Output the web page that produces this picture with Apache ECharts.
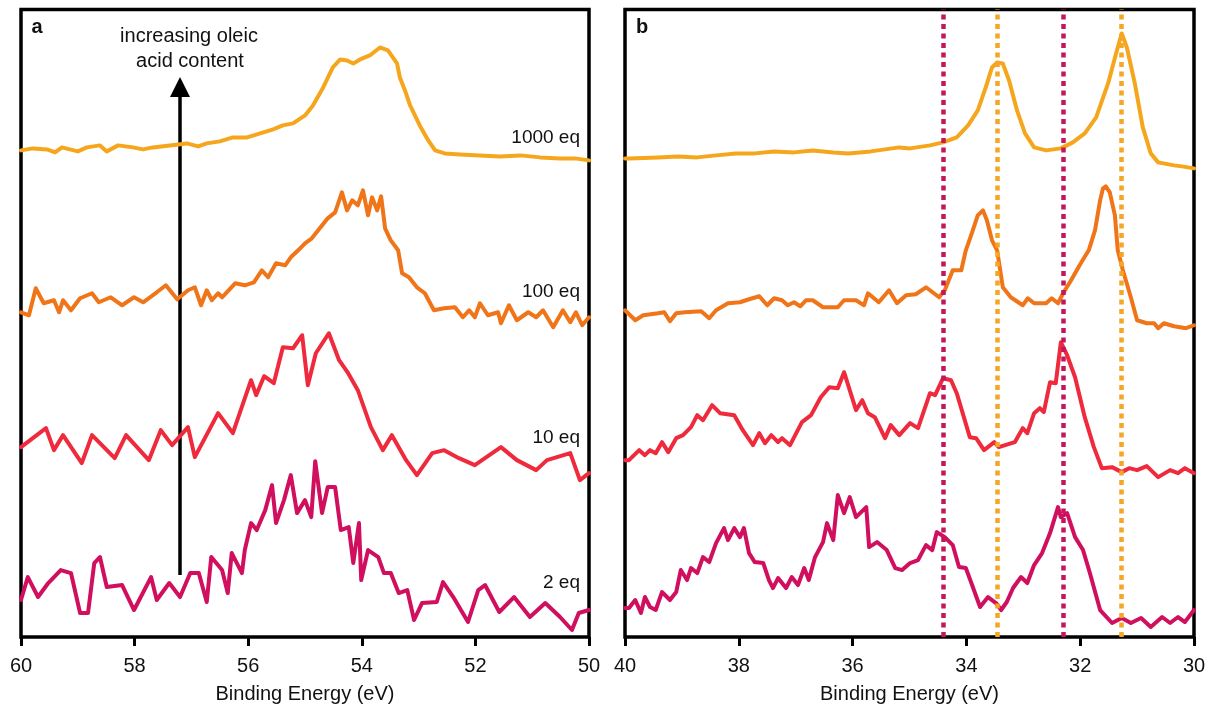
<!DOCTYPE html>
<html>
<head>
<meta charset="utf-8">
<title>XPS spectra</title>
<script src="https://cdn.jsdelivr.net/npm/echarts@6/dist/echarts.min.js"></script>
<style>
  html, body { margin: 0; padding: 0; background: #fff; }
  #main { width: 1208px; height: 706px; }
</style>
</head>
<body>
<div id="main"></div>
<script>
// panel a: [binding energy (eV), offset intensity]
const a1000 = [[60.00,487],[59.79,489],[59.54,488],[59.40,485],[59.28,490],[59.00,486],[58.84,490],[58.61,492],[58.49,486],[58.29,492],[58.03,490],[57.85,488],[57.68,490],[57.38,492],[57.08,494],[56.88,491],[56.73,494],[56.50,496],[56.27,500],[56.02,500],[55.79,504],[55.56,508],[55.39,512],[55.21,514],[55.00,522],[54.86,532],[54.68,550],[54.51,570],[54.38,578],[54.26,577],[54.15,574],[54.03,578],[53.86,582],[53.68,590],[53.54,587],[53.38,574],[53.33,560],[53.24,547],[53.15,532],[52.98,512],[52.83,497],[52.71,487],[52.54,484],[52.27,483],[51.92,482],[51.57,481],[51.21,482],[50.86,480],[50.51,479],[50.25,479],[50.00,477]];

const a100 = [[60.00,325],[59.86,322],[59.74,349],[59.60,334],[59.42,337],[59.33,325],[59.26,337],[59.12,327],[58.96,339],[58.75,344],[58.63,335],[58.42,340],[58.22,332],[58.01,340],[57.85,335],[57.61,345],[57.45,352],[57.25,338],[57.06,347],[56.94,350],[56.83,332],[56.73,347],[56.64,337],[56.53,344],[56.46,340],[56.23,354],[56.06,352],[55.90,355],[55.76,367],[55.65,360],[55.51,374],[55.35,372],[55.25,380],[55.12,387],[55.00,394],[54.88,399],[54.74,409],[54.60,419],[54.47,425],[54.35,445],[54.26,427],[54.17,437],[54.07,432],[53.98,447],[53.89,422],[53.82,440],[53.73,427],[53.66,441],[53.59,409],[53.49,397],[53.36,387],[53.29,364],[53.17,360],[53.03,350],[52.89,344],[52.73,327],[52.55,329],[52.36,330],[52.22,320],[52.11,327],[52.01,320],[51.92,334],[51.78,322],[51.60,325],[51.55,314],[51.41,332],[51.27,317],[51.07,325],[50.93,320],[50.81,327],[50.63,310],[50.46,327],[50.33,315],[50.23,325],[50.12,312],[50.00,320]];

const a10 = [[60.00,190],[59.56,209],[59.42,187],[59.26,202],[58.93,174],[58.75,202],[58.35,179],[58.15,202],[57.75,177],[57.54,207],[57.34,192],[57.06,210],[56.94,180],[56.53,224],[56.27,204],[55.95,257],[55.86,242],[55.72,261],[55.55,254],[55.39,290],[55.21,289],[55.05,302],[54.95,252],[54.81,284],[54.58,304],[54.40,277],[54.24,264],[54.07,247],[53.84,210],[53.63,187],[53.47,202],[53.22,177],[53.03,162],[52.76,184],[52.55,187],[52.29,179],[52.01,172],[51.55,190],[51.27,177],[50.93,167],[50.74,177],[50.33,184],[50.16,157],[50.00,164]];

const a2 = [[60.00,37],[59.88,60],[59.70,40],[59.52,54],[59.30,67],[59.12,64],[58.96,24],[58.82,24],[58.71,74],[58.61,80],[58.49,50],[58.22,52],[58.01,27],[57.71,60],[57.61,37],[57.39,54],[57.20,40],[57.02,64],[56.87,64],[56.73,35],[56.65,80],[56.46,67],[56.36,44],[56.29,84],[56.11,64],[56.06,87],[55.95,114],[55.85,107],[55.70,127],[55.58,152],[55.51,114],[55.37,137],[55.25,162],[55.14,124],[55.00,137],[54.89,120],[54.82,176],[54.70,124],[54.60,150],[54.47,150],[54.37,107],[54.23,110],[54.15,74],[54.05,114],[54.01,57],[53.89,87],[53.71,80],[53.61,64],[53.49,64],[53.35,44],[53.20,47],[53.08,17],[52.94,34],[52.68,35],[52.57,55],[52.39,40],[52.13,15],[51.95,47],[51.83,52],[51.58,25],[51.32,40],[51.04,20],[50.77,34],[50.51,20],[50.30,7],[50.18,24],[50.00,27]];

// panel b
const b1000 = [[40.00,479],[39.93,479],[39.42,480],[39.07,481],[38.73,480],[38.40,482],[38.05,484],[37.72,484],[37.38,486],[37.03,485],[36.70,487],[36.34,485],[36.08,484],[35.68,486],[35.18,490],[34.99,489],[34.64,492],[34.41,495],[34.17,500],[33.97,512],[33.80,527],[33.66,550],[33.55,570],[33.46,575],[33.36,574],[33.25,557],[33.11,527],[32.97,504],[32.81,490],[32.60,487],[32.34,489],[32.13,495],[31.92,504],[31.72,520],[31.51,554],[31.37,584],[31.27,604],[31.18,590],[31.04,554],[30.90,510],[30.76,484],[30.63,475],[30.35,472],[30.21,471],[30.00,469]];

const b100 = [[40.00,327],[39.82,317],[39.68,322],[39.42,324],[39.31,325],[39.21,316],[39.10,324],[38.95,325],[38.66,326],[38.52,319],[38.40,327],[38.19,334],[37.98,335],[37.82,338],[37.64,341],[37.50,332],[37.38,339],[37.24,337],[37.14,332],[37.03,335],[36.92,331],[36.82,337],[36.70,337],[36.52,330],[36.26,330],[36.15,337],[35.94,337],[35.80,332],[35.73,344],[35.54,335],[35.36,347],[35.22,334],[35.06,342],[34.89,343],[34.71,350],[34.48,340],[34.38,347],[34.24,367],[34.09,367],[34.01,387],[33.90,405],[33.80,422],[33.71,427],[33.64,417],[33.55,397],[33.46,387],[33.36,350],[33.22,340],[33.01,332],[32.92,339],[32.81,334],[32.60,334],[32.50,339],[32.39,334],[32.30,344],[32.16,357],[31.99,374],[31.85,387],[31.74,407],[31.65,437],[31.60,449],[31.55,451],[31.48,445],[31.39,422],[31.34,387],[31.25,367],[31.11,340],[31.00,317],[30.83,314],[30.70,314],[30.63,309],[30.53,314],[30.35,311],[30.14,309],[30.00,312]];

const b10 = [[40.00,177],[39.93,177],[39.75,187],[39.65,182],[39.56,187],[39.46,184],[39.35,195],[39.24,185],[39.10,199],[38.98,202],[38.84,210],[38.73,222],[38.63,217],[38.47,232],[38.33,224],[38.08,222],[37.93,207],[37.75,192],[37.64,204],[37.54,194],[37.43,202],[37.31,195],[37.24,199],[37.10,192],[36.89,215],[36.73,222],[36.56,240],[36.41,250],[36.26,249],[36.15,265],[35.94,227],[35.83,237],[35.73,224],[35.61,220],[35.43,199],[35.33,212],[35.18,202],[34.99,214],[34.85,209],[34.64,244],[34.55,242],[34.41,259],[34.27,257],[34.17,244],[33.94,200],[33.83,199],[33.69,187],[33.51,195],[33.43,190],[33.15,195],[33.01,209],[32.93,204],[32.81,224],[32.71,229],[32.64,225],[32.53,255],[32.43,254],[32.34,295],[32.23,282],[32.09,260],[31.92,220],[31.76,190],[31.62,169],[31.44,170],[31.27,165],[31.14,169],[31.00,167],[30.83,171],[30.63,160],[30.42,167],[30.28,164],[30.16,169],[30.00,164]];

const b2 = [[40.00,29],[39.93,29],[39.82,37],[39.72,24],[39.65,40],[39.56,30],[39.46,27],[39.35,45],[39.21,37],[39.10,45],[39.02,67],[38.91,57],[38.84,69],[38.73,64],[38.63,80],[38.52,75],[38.40,94],[38.26,109],[38.19,97],[38.08,109],[37.98,100],[37.91,109],[37.82,84],[37.72,75],[37.57,74],[37.47,57],[37.40,49],[37.31,59],[37.17,49],[37.07,60],[36.96,52],[36.85,69],[36.77,57],[36.66,80],[36.52,95],[36.45,114],[36.34,97],[36.26,142],[36.15,124],[36.05,140],[35.94,120],[35.76,130],[35.71,90],[35.57,95],[35.40,87],[35.25,69],[35.13,67],[34.99,74],[34.85,77],[34.71,92],[34.60,87],[34.52,105],[34.38,100],[34.24,92],[34.13,70],[34.01,69],[33.90,52],[33.76,30],[33.62,40],[33.48,34],[33.39,27],[33.29,35],[33.18,49],[33.04,60],[32.93,54],[32.81,72],[32.67,84],[32.53,104],[32.39,130],[32.34,120],[32.23,124],[32.09,100],[31.95,87],[31.83,64],[31.65,27],[31.44,14],[31.27,19],[31.11,14],[30.93,19],[30.76,10],[30.56,20],[30.42,14],[30.28,20],[30.16,15],[30.00,27]];

// reference peak positions (eV)
const guidesMagenta = [34.4, 32.3];
const guidesOrange = [33.45, 31.27];

const seriesLabels = ['1000 eq', '100 eq', '10 eq', '2 eq'];
const colors = ['#f5a61c', '#f07418', '#ee2a3c', '#d0105e'];

const FONT = "'Liberation Sans', Arial, sans-serif";

let chart = echarts.init(document.getElementById('main'), null, { renderer: 'canvas' });

function xAxisFor(gridIndex, min, max) {
  return {
    type: 'value',
    gridIndex: gridIndex,
    min: min,
    max: max,
    interval: 2,
    inverse: true,
    name: 'Binding Energy (eV)',
    nameLocation: 'middle',
    nameGap: 47,
    nameTextStyle: { fontFamily: FONT, fontSize: 20, color: '#111' },
    axisLine: { show: false },
    axisTick: { show: true, inside: false, length: 9, lineStyle: { color: '#000', width: 3 } },
    axisLabel: { fontFamily: FONT, fontSize: 20, color: '#111', margin: 19 },
    splitLine: { show: false }
  };
}

function yAxisFor(gridIndex) {
  return { type: 'value', gridIndex: gridIndex, min: 0, max: 628, show: false };
}

function lineSeries(data, color, idx) {
  return {
    type: 'line',
    xAxisIndex: idx,
    yAxisIndex: idx,
    data: data,
    showSymbol: false,
    lineStyle: { color: color, width: 4, join: 'round', cap: 'round' },
    z: 3
  };
}

let guideLines = [];
guidesMagenta.forEach((v) => guideLines.push({ xAxis: v, lineStyle: { color: '#c2185b' } }));
guidesOrange.forEach((v) => guideLines.push({ xAxis: v, lineStyle: { color: '#f5a623' } }));

let labelY = [138, 292, 438, 583];
let labelText = seriesLabels.map((t, i) => ({
  type: 'text',
  style: { text: t, x: 580, y: labelY[i], textAlign: 'right', textVerticalAlign: 'middle', font: '19px ' + FONT, fill: '#111' }
}));

let option = {
  animation: false,
  backgroundColor: '#fff',
  grid: [
    { left: 21, top: 9.5, width: 568, height: 627.5, outerBoundsMode: 'none', show: true, borderColor: '#000', borderWidth: 3.5, backgroundColor: 'transparent' },
    { left: 625, top: 9.5, width: 569, height: 627.5, outerBoundsMode: 'none', show: true, borderColor: '#000', borderWidth: 3.5, backgroundColor: 'transparent' }
  ],
  xAxis: [xAxisFor(0, 50, 60), xAxisFor(1, 30, 40)],
  yAxis: [yAxisFor(0), yAxisFor(1)],
  series: [
    lineSeries(a2, colors[3], 0),
    lineSeries(a10, colors[2], 0),
    lineSeries(a100, colors[1], 0),
    lineSeries(a1000, colors[0], 0),
    lineSeries(b2, colors[3], 1),
    lineSeries(b10, colors[2], 1),
    lineSeries(b100, colors[1], 1),
    lineSeries(b1000, colors[0], 1),
    {
      // dotted guide lines in panel b
      type: 'line',
      xAxisIndex: 1,
      yAxisIndex: 1,
      data: [],
      z: 5,
      markLine: {
        silent: true,
        symbol: ['none', 'none'],
        label: { show: false },
        lineStyle: { width: 4.5, type: [5, 4.5], cap: 'butt' },
        data: guideLines
      }
    }
  ],
  graphic: [
    { type: 'text', style: { text: 'a', x: 37, y: 27, textAlign: 'center', textVerticalAlign: 'middle', font: 'bold 20px ' + FONT, fill: '#111' } },
    { type: 'text', style: { text: 'b', x: 642, y: 27, textAlign: 'center', textVerticalAlign: 'middle', font: 'bold 20px ' + FONT, fill: '#111' } },
    { type: 'text', style: { text: 'increasing oleic', x: 189, y: 36, textAlign: 'center', textVerticalAlign: 'middle', font: '20px ' + FONT, fill: '#111' } },
    { type: 'text', style: { text: 'acid content', x: 190, y: 61, textAlign: 'center', textVerticalAlign: 'middle', font: '20px ' + FONT, fill: '#111' } },
    // arrow
    { type: 'line', shape: { x1: 180, y1: 575, x2: 180, y2: 95 }, style: { stroke: '#000', lineWidth: 3.5 } },
    { type: 'polygon', shape: { points: [[170, 97], [190, 97], [180, 77]] }, style: { fill: '#000' } }
  ].concat(labelText)
};

chart.setOption(option);
</script>
</body>
</html>
